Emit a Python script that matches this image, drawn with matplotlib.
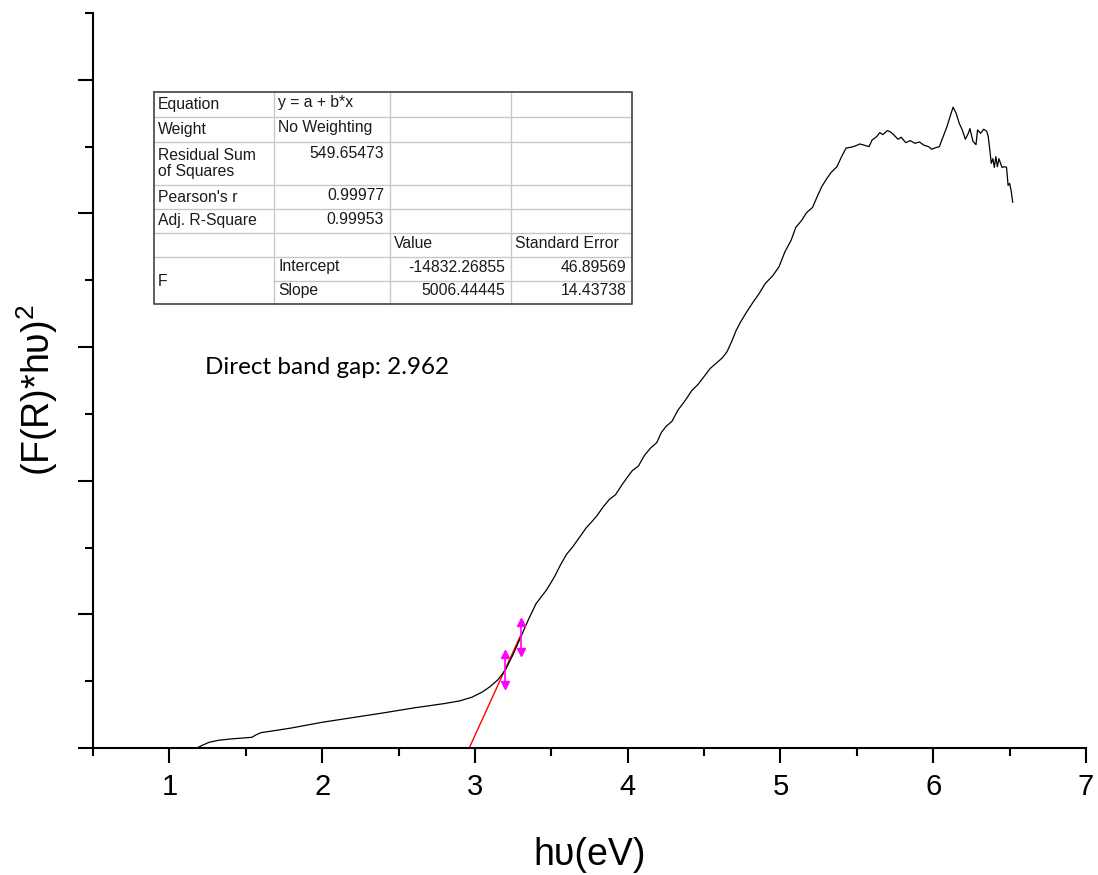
import numpy as np
import matplotlib.pyplot as plt
from matplotlib.ticker import MultipleLocator, NullFormatter

plt.rcParams['font.family'] = ['Liberation Sans', 'DejaVu Sans']
plt.rcParams['mathtext.fontset'] = 'custom'
plt.rcParams['mathtext.rm'] = 'Liberation Sans'

hv = [1.18, 1.22, 1.26, 1.32, 1.40, 1.48, 1.54, 1.57, 1.60, 1.66, 1.80, 2.00, 2.20, 2.40,
      2.60, 2.80, 2.90, 2.98, 3.05, 3.10, 3.15, 3.20, 3.25, 3.30, 3.35, 3.40, 3.47,
      3.52, 3.56, 3.60, 3.64, 3.68, 3.73, 3.77, 3.80, 3.84, 3.88, 3.92, 3.96, 4.00, 4.03,
      4.07, 4.11, 4.15, 4.19, 4.22, 4.25, 4.29, 4.33, 4.37, 4.42, 4.46, 4.50, 4.54, 4.58,
      4.62, 4.65, 4.68, 4.71, 4.74, 4.78, 4.82, 4.86, 4.90, 4.95, 4.99, 5.03, 5.07, 5.10,
      5.14, 5.17, 5.21, 5.24, 5.27, 5.30, 5.33, 5.37, 5.40, 5.43,
      5.46, 5.49, 5.52, 5.55, 5.58, 5.60, 5.63, 5.65, 5.67, 5.70, 5.72, 5.74, 5.77, 5.79,
      5.82, 5.85, 5.88, 5.91, 5.94, 5.97, 5.99, 6.01, 6.04, 6.06, 6.09, 6.11, 6.13, 6.15,
      6.17, 6.19, 6.21, 6.23, 6.24, 6.26, 6.28, 6.29, 6.31, 6.33, 6.35, 6.36, 6.37, 6.38,
      6.39, 6.40, 6.41, 6.42, 6.43, 6.45, 6.47, 6.48, 6.49, 6.50, 6.51, 6.52]
F = [0, 45, 85, 115, 135, 150, 160, 200, 230, 250, 300, 385, 455, 525,
     600, 665, 705, 760, 840, 920, 1020, 1170, 1400, 1660, 1920, 2160, 2370,
     2560, 2740, 2900, 3010, 3140, 3300, 3400, 3480, 3610, 3720, 3790, 3930, 4060, 4150,
     4220, 4380, 4490, 4570, 4720, 4810, 4890, 5060, 5180, 5350, 5440, 5560, 5680, 5760,
     5840, 5930, 6080, 6250, 6380, 6530, 6670, 6800, 6950, 7070, 7200, 7430, 7600, 7790,
     7900, 8010, 8090, 8250, 8400, 8510, 8610, 8700, 8850, 8980,
     8990, 9010, 9040, 9020, 9000, 9100, 9150, 9210, 9180, 9240, 9220, 9180, 9110, 9140,
     9060, 9090, 9050, 9070, 9020, 9000, 8960, 8980, 9000, 9120, 9300, 9450, 9590, 9500,
     9350, 9250, 9110, 9200, 9270, 9080, 9030, 9250, 9200, 9260, 9230, 9150, 8960, 8750,
     8820, 8690, 8850, 8700, 8820, 8690, 8700, 8690, 8420, 8450, 8340, 8170]

# linear fit results
intercept = -14832.26855
slope = 5006.44445
fit_end = 3.3
fit_pts_x = [3.2, 3.3]
fit_pts_y = [1180, 1660]

table_rows = [
    ["Equation", "y = a + b*x", "", ""],
    ["Weight", "No Weighting", "", ""],
    ["Residual Sum\nof Squares", "549.65473", "", ""],
    ["Pearson's r", "0.99977", "", ""],
    ["Adj. R-Square", "0.99953", "", ""],
    ["", "", "Value", "Standard Error"],
    ["F", "Intercept", "-14832.26855", "46.89569"],
    ["", "Slope", "5006.44445", "14.43738"],
]

W, H = 1098, 875
fig = plt.figure(figsize=(W / 100, H / 100), dpi=100)
ax = fig.add_axes([93 / W, 1 - 748 / H, (1086 - 93) / W, (748 - 13) / H])

ax.plot(hv, F, color='black', lw=0.9, zorder=3)

gap = -intercept / slope
xf = np.array([gap, fit_end])
ax.plot(xf, intercept + slope * xf, color='red', lw=1.0, zorder=2)

# fit range markers
off = 230
for x0, y0 in zip(fit_pts_x, fit_pts_y):
    ax.plot([x0, x0], [y0 - off, y0 + off], color='magenta', lw=1.2, zorder=4)
ax.plot(fit_pts_x, np.array(fit_pts_y) + off, ls='none', marker='^', ms=6,
        color='magenta', zorder=4)
ax.plot(fit_pts_x, np.array(fit_pts_y) - off, ls='none', marker='v', ms=6,
        color='magenta', zorder=4)

ax.set_xlim(0.5, 7)
ax.set_ylim(0, 11000)
ax.xaxis.set_major_locator(MultipleLocator(1))
ax.xaxis.set_minor_locator(MultipleLocator(0.5))
ax.yaxis.set_major_locator(MultipleLocator(2000))
ax.yaxis.set_minor_locator(MultipleLocator(1000))
ax.yaxis.set_major_formatter(NullFormatter())
ax.set_xticks([1, 2, 3, 4, 5, 6, 7])
for s in ['top', 'right']:
    ax.spines[s].set_visible(False)
for s in ['left', 'bottom']:
    ax.spines[s].set_linewidth(1.5)
ax.tick_params(which='major', direction='out', length=11, width=1.5, labelsize=21, pad=7)
ax.tick_params(which='minor', direction='out', length=5.5, width=1.5)

# axis titles placed in figure pixels
fig.text(590 / W, 1 - 855 / H, 'h\u03c5(eV)', fontsize=27, ha='center', va='center')
fig.text(37 / W, 1 - 390 / H, '(F(R)*h\u03c5)$^2$', fontsize=27, rotation=90,
         ha='center', va='center')

# overlay axes in pixel units for the annotation and table
ov = fig.add_axes([0, 0, 1, 1])
ov.set_xlim(0, W)
ov.set_ylim(H, 0)
ov.axis('off')
ov.patch.set_alpha(0)

ov.text(205, 368, 'Direct band gap: 2.962', family=['Lato', 'DejaVu Sans'],
        fontsize=17.5, va='center', ha='left')

cols = [154, 274, 390, 511, 632]
rows = [92, 117, 142, 185, 209, 233, 257, 281, 304]
ov.fill_between([cols[0], cols[-1]], rows[0], rows[-1], color='white', zorder=1)
grid_c = '#c8c8c8'
for i, y in enumerate(rows[1:-1], start=1):
    x_start = cols[1] if i == 7 else cols[0]
    ov.plot([x_start, cols[-1]], [y, y], color=grid_c, lw=1, zorder=2)
for x in cols[1:-1]:
    ov.plot([x, x], [rows[0], rows[-1]], color=grid_c, lw=1, zorder=2)
ov.plot([cols[0], cols[-1], cols[-1], cols[0], cols[0]],
        [rows[0], rows[0], rows[-1], rows[-1], rows[0]], color='#505050', lw=1.3, zorder=3)

fs = 11.3
tc = '#1a1a1a'
for i, row in enumerate(table_rows):
    y_top = rows[i]
    y_c = (rows[i] + rows[i + 1]) / 2
    for j, txt in enumerate(row):
        if not txt:
            continue
        if i == 6 and j == 0:
            ov.text(cols[0] + 4, rows[7], txt, fontsize=fs, color=tc, va='center', ha='left')
            continue
        numeric = txt[0].isdigit() or txt[0] == '-'
        if j == 0:
            ov.text(cols[0] + 4, y_c, txt, fontsize=fs, color=tc, va='center', ha='left',
                    linespacing=1.15)
        elif numeric:
            yy = y_top + 11 if i == 2 else y_c - 2
            ov.text(cols[j + 1] - 6, yy, txt, fontsize=fs, color=tc, va='center', ha='right')
        else:
            ov.text(cols[j] + 4, y_c - 2, txt, fontsize=fs, color=tc, va='center', ha='left')

fig.savefig('out.png', dpi=100)
